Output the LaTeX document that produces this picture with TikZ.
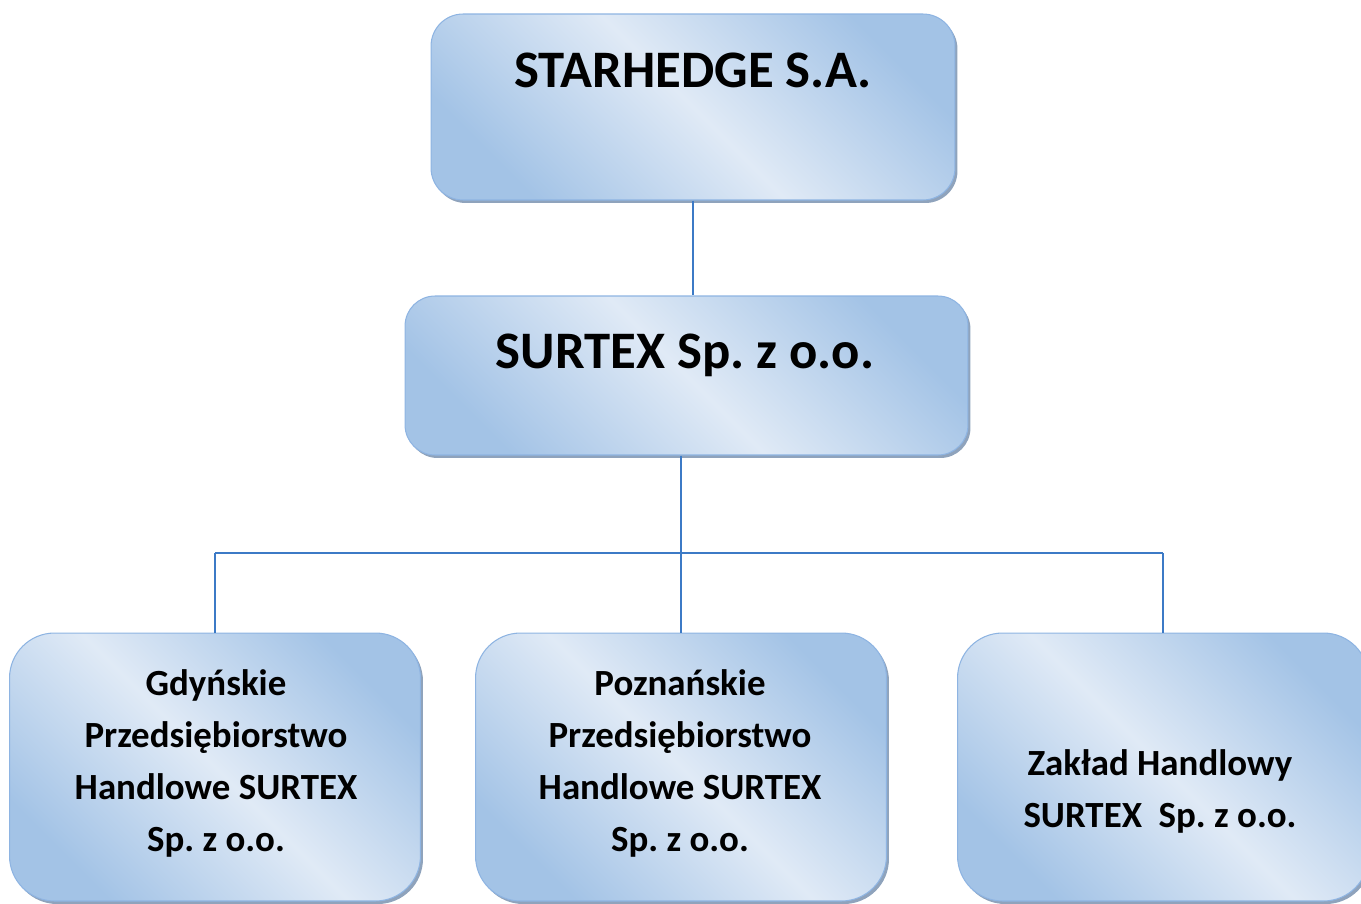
\documentclass[tikz,border=0pt]{standalone}
\usepackage{fontspec}
\setmainfont{Carlito}
\usepackage{tikz}
\usetikzlibrary{positioning}
\usetikzlibrary{calc}
\usetikzlibrary{shadows}
\definecolor{boxlight}{HTML}{E0EAF6}
\definecolor{boxdark}{HTML}{A3C3E6}
\definecolor{boxrim}{HTML}{8EB4E2}
\definecolor{boxshade}{HTML}{8FA3BC}
\definecolor{linkblue}{HTML}{3C7AC6}
\tikzset{
    firm/.style={
        shape=rectangle, draw=boxrim, line width=0.6pt, inner sep=0pt,
        top color=boxdark, bottom color=boxdark, middle color=boxlight,
        shading angle=-45,
        drop shadow={shadow xshift=0.05cm, shadow yshift=-0.06cm, fill=boxshade, opacity=1}
    },
    firmname/.style={font=\bfseries\fontsize{30}{36}\selectfont, inner sep=0pt},
    unitname/.style={font=\bfseries\fontsize{21}{29.6}\selectfont, align=center, inner sep=0pt},
    link/.style={draw=linkblue, line width=0.7pt}
}
\frenchspacing

\begin{document}
\begin{tikzpicture}[x=0.02cm, y=-0.02cm]
		\useasboundingbox (0,0) rectangle (1361,903);
		% boxes
		\node[firm, rounded corners=0.64cm, minimum width=10.48cm, minimum height=3.72cm] (star) at (693,107) {};
		\node[firm, rounded corners=0.6cm, minimum width=11.26cm, minimum height=3.18cm] (surtex) at (686.5,375.5) {};
		\node[firm, rounded corners=0.9cm, minimum width=8.22cm, minimum height=5.36cm] (gdynia) at (215,767) {};
		\node[firm, rounded corners=0.9cm, minimum width=8.22cm, minimum height=5.36cm] (poznan) at (681,767) {};
		\node[firm, rounded corners=0.9cm, minimum width=8.22cm, minimum height=5.36cm] (zaklad) at (1163,767) {};
		
		% names
		\node[firmname, anchor=base] (starname) at (693,87) {STARHEDGE S.A.};
		\node[firmname, anchor=base] (surtexname) at (685,368) {SURTEX Sp. z o.o.};
		\node[unitname] (gdynianame) at (216,763) {Gdyńskie\\Przedsiębiorstwo\\Handlowe SURTEX\\Sp. z o.o.};
		\node[unitname] (poznanname) at (680,763) {Poznańskie\\Przedsiębiorstwo\\Handlowe SURTEX\\Sp. z o.o.};
		\node[unitname] (zakladname) at (1160,791) {Zakład Handlowy\\SURTEX\ \ Sp. z o.o.};
		
		% links
		\coordinate (bus) at (681,553);
		\path [link] (star.south) edge (star.south |- surtex.north);
		\path [link] (poznan.north |- surtex.south) edge (poznan.north);
		\path [link] (gdynia.north |- bus) edge (zaklad.north |- bus);
		\path [link] (gdynia.north |- bus) edge (gdynia.north);
		\path [link] (zaklad.north |- bus) edge (zaklad.north);
		\end{tikzpicture}
\end{document}
